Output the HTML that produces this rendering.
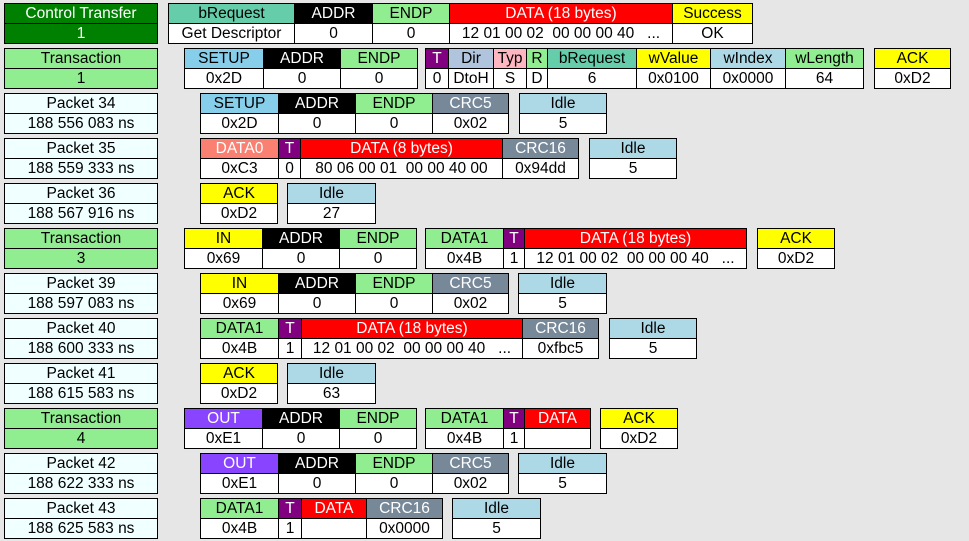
<!DOCTYPE html>
<html><head><meta charset="utf-8"><style>
body{margin:0;width:969px;height:541px;background:#e6e6e6;font-family:"Liberation Sans",Arial,sans-serif;font-size:15.5px;position:relative;overflow:hidden}
.b{position:absolute;display:flex;border:1px solid #000;background:#fff}
.c{display:flex;flex-direction:column;border-left:1px solid #000;box-sizing:border-box}
.c:first-child{border-left:0}
.h,.v{height:19px;line-height:19px;text-align:center;white-space:pre;overflow:hidden}
.v{background:#fff;color:#000;border-top:1px solid #000}
.dg{background:#008000;color:#fff}.dg .v{background:#008000;color:#fff}
.lg .v{background:#90ee90}.az .v{background:#f0ffff}
.lgh{background:#90ee90}.azh{background:#f0ffff}
.k{background:#000;color:#fff}.g{background:#90ee90}.r{background:#f00;color:#fff}.y{background:#ff0}
.m{background:#66cdaa}.s{background:#87ceeb}.gr{background:#778899;color:#fff}.i{background:#add8e6}
.p{background:#800080;color:#fff}.ds{background:#b0c4de}.pk{background:#ffb6c1}.sa{background:#fa8072;color:#fff}.o{background:#8844ff;color:#fff}
</style></head><body>

<div class="b dg" style="left:4px;top:3px"><div class="c" style="width:152px"><div class="h">Control Transfer</div><div class="v">1</div></div></div>
<div class="b lg" style="left:4px;top:48px"><div class="c" style="width:152px"><div class="h lgh">Transaction</div><div class="v">1</div></div></div>
<div class="b az" style="left:4px;top:93px"><div class="c" style="width:152px"><div class="h azh">Packet 34</div><div class="v">188 556 083 ns</div></div></div>
<div class="b az" style="left:4px;top:138px"><div class="c" style="width:152px"><div class="h azh">Packet 35</div><div class="v">188 559 333 ns</div></div></div>
<div class="b az" style="left:4px;top:183px"><div class="c" style="width:152px"><div class="h azh">Packet 36</div><div class="v">188 567 916 ns</div></div></div>
<div class="b lg" style="left:4px;top:228px"><div class="c" style="width:152px"><div class="h lgh">Transaction</div><div class="v">3</div></div></div>
<div class="b az" style="left:4px;top:273px"><div class="c" style="width:152px"><div class="h azh">Packet 39</div><div class="v">188 597 083 ns</div></div></div>
<div class="b az" style="left:4px;top:318px"><div class="c" style="width:152px"><div class="h azh">Packet 40</div><div class="v">188 600 333 ns</div></div></div>
<div class="b az" style="left:4px;top:363px"><div class="c" style="width:152px"><div class="h azh">Packet 41</div><div class="v">188 615 583 ns</div></div></div>
<div class="b lg" style="left:4px;top:408px"><div class="c" style="width:152px"><div class="h lgh">Transaction</div><div class="v">4</div></div></div>
<div class="b az" style="left:4px;top:453px"><div class="c" style="width:152px"><div class="h azh">Packet 42</div><div class="v">188 622 333 ns</div></div></div>
<div class="b az" style="left:4px;top:498px"><div class="c" style="width:152px"><div class="h azh">Packet 43</div><div class="v">188 625 583 ns</div></div></div>

<div class="b" style="left:168px;top:3px">
<div class="c" style="width:125px"><div class="h m">bRequest</div><div class="v">Get Descriptor</div></div>
<div class="c" style="width:78px"><div class="h k">ADDR</div><div class="v">0</div></div>
<div class="c" style="width:77px"><div class="h g">ENDP</div><div class="v">0</div></div>
<div class="c" style="width:223px"><div class="h r">DATA (18 bytes)</div><div class="v">12 01 00 02  00 00 00 40   ...</div></div>
<div class="c" style="width:80px"><div class="h y">Success</div><div class="v">OK</div></div></div>

<div class="b" style="left:184px;top:48px">
<div class="c" style="width:78px"><div class="h s">SETUP</div><div class="v">0x2D</div></div>
<div class="c" style="width:77px"><div class="h k">ADDR</div><div class="v">0</div></div>
<div class="c" style="width:77px"><div class="h g">ENDP</div><div class="v">0</div></div></div>
<div class="b" style="left:425px;top:48px">
<div class="c" style="width:22px"><div class="h p">T</div><div class="v">0</div></div>
<div class="c" style="width:45px"><div class="h ds">Dir</div><div class="v">DtoH</div></div>
<div class="c" style="width:33px"><div class="h pk">Typ</div><div class="v">S</div></div>
<div class="c" style="width:21px"><div class="h g">R</div><div class="v">D</div></div>
<div class="c" style="width:89px"><div class="h m">bRequest</div><div class="v">6</div></div>
<div class="c" style="width:74px"><div class="h y">wValue</div><div class="v">0x0100</div></div>
<div class="c" style="width:75px"><div class="h i">wIndex</div><div class="v">0x0000</div></div>
<div class="c" style="width:78px"><div class="h g">wLength</div><div class="v">64</div></div></div>
<div class="b" style="left:874px;top:48px"><div class="c" style="width:75px"><div class="h y">ACK</div><div class="v">0xD2</div></div></div>

<div class="b" style="left:200px;top:93px">
<div class="c" style="width:77px"><div class="h s">SETUP</div><div class="v">0x2D</div></div>
<div class="c" style="width:77px"><div class="h k">ADDR</div><div class="v">0</div></div>
<div class="c" style="width:77px"><div class="h g">ENDP</div><div class="v">0</div></div>
<div class="c" style="width:76px"><div class="h gr">CRC5</div><div class="v">0x02</div></div></div>
<div class="b" style="left:519px;top:93px"><div class="c" style="width:86px"><div class="h i">Idle</div><div class="v">5</div></div></div>

<div class="b" style="left:200px;top:138px">
<div class="c" style="width:77px"><div class="h sa">DATA0</div><div class="v">0xC3</div></div>
<div class="c" style="width:22px"><div class="h p">T</div><div class="v">0</div></div>
<div class="c" style="width:202px"><div class="h r">DATA (8 bytes)</div><div class="v">80 06 00 01  00 00 40 00</div></div>
<div class="c" style="width:76px"><div class="h gr">CRC16</div><div class="v">0x94dd</div></div></div>
<div class="b" style="left:589px;top:138px"><div class="c" style="width:86px"><div class="h i">Idle</div><div class="v">5</div></div></div>

<div class="b" style="left:200px;top:183px"><div class="c" style="width:76px"><div class="h y">ACK</div><div class="v">0xD2</div></div></div>
<div class="b" style="left:287px;top:183px"><div class="c" style="width:87px"><div class="h i">Idle</div><div class="v">27</div></div></div>

<div class="b" style="left:184px;top:228px">
<div class="c" style="width:77px"><div class="h y">IN</div><div class="v">0x69</div></div>
<div class="c" style="width:77px"><div class="h k">ADDR</div><div class="v">0</div></div>
<div class="c" style="width:77px"><div class="h g">ENDP</div><div class="v">0</div></div></div>
<div class="b" style="left:425px;top:228px">
<div class="c" style="width:77px"><div class="h g">DATA1</div><div class="v">0x4B</div></div>
<div class="c" style="width:21px"><div class="h p">T</div><div class="v">1</div></div>
<div class="c" style="width:222px"><div class="h r">DATA (18 bytes)</div><div class="v">12 01 00 02  00 00 00 40   ...</div></div></div>
<div class="b" style="left:757px;top:228px"><div class="c" style="width:76px"><div class="h y">ACK</div><div class="v">0xD2</div></div></div>

<div class="b" style="left:200px;top:273px">
<div class="c" style="width:77px"><div class="h y">IN</div><div class="v">0x69</div></div>
<div class="c" style="width:77px"><div class="h k">ADDR</div><div class="v">0</div></div>
<div class="c" style="width:77px"><div class="h g">ENDP</div><div class="v">0</div></div>
<div class="c" style="width:76px"><div class="h gr">CRC5</div><div class="v">0x02</div></div></div>
<div class="b" style="left:518px;top:273px"><div class="c" style="width:87px"><div class="h i">Idle</div><div class="v">5</div></div></div>

<div class="b" style="left:200px;top:318px">
<div class="c" style="width:77px"><div class="h g">DATA1</div><div class="v">0x4B</div></div>
<div class="c" style="width:23px"><div class="h p">T</div><div class="v">1</div></div>
<div class="c" style="width:221px"><div class="h r">DATA (18 bytes)</div><div class="v">12 01 00 02  00 00 00 40   ...</div></div>
<div class="c" style="width:76px"><div class="h gr">CRC16</div><div class="v">0xfbc5</div></div></div>
<div class="b" style="left:609px;top:318px"><div class="c" style="width:86px"><div class="h i">Idle</div><div class="v">5</div></div></div>

<div class="b" style="left:200px;top:363px"><div class="c" style="width:76px"><div class="h y">ACK</div><div class="v">0xD2</div></div></div>
<div class="b" style="left:287px;top:363px"><div class="c" style="width:87px"><div class="h i">Idle</div><div class="v">63</div></div></div>

<div class="b" style="left:184px;top:408px">
<div class="c" style="width:77px"><div class="h o">OUT</div><div class="v">0xE1</div></div>
<div class="c" style="width:77px"><div class="h k">ADDR</div><div class="v">0</div></div>
<div class="c" style="width:77px"><div class="h g">ENDP</div><div class="v">0</div></div></div>
<div class="b" style="left:425px;top:408px">
<div class="c" style="width:77px"><div class="h g">DATA1</div><div class="v">0x4B</div></div>
<div class="c" style="width:21px"><div class="h p">T</div><div class="v">1</div></div>
<div class="c" style="width:66px"><div class="h r">DATA</div><div class="v"> </div></div></div>
<div class="b" style="left:600px;top:408px"><div class="c" style="width:76px"><div class="h y">ACK</div><div class="v">0xD2</div></div></div>

<div class="b" style="left:200px;top:453px">
<div class="c" style="width:77px"><div class="h o">OUT</div><div class="v">0xE1</div></div>
<div class="c" style="width:77px"><div class="h k">ADDR</div><div class="v">0</div></div>
<div class="c" style="width:77px"><div class="h g">ENDP</div><div class="v">0</div></div>
<div class="c" style="width:76px"><div class="h gr">CRC5</div><div class="v">0x02</div></div></div>
<div class="b" style="left:518px;top:453px"><div class="c" style="width:87px"><div class="h i">Idle</div><div class="v">5</div></div></div>

<div class="b" style="left:200px;top:498px">
<div class="c" style="width:77px"><div class="h g">DATA1</div><div class="v">0x4B</div></div>
<div class="c" style="width:23px"><div class="h p">T</div><div class="v">1</div></div>
<div class="c" style="width:65px"><div class="h r">DATA</div><div class="v"> </div></div>
<div class="c" style="width:76px"><div class="h gr">CRC16</div><div class="v">0x0000</div></div></div>
<div class="b" style="left:452px;top:498px"><div class="c" style="width:87px"><div class="h i">Idle</div><div class="v">5</div></div></div>

</body></html>
